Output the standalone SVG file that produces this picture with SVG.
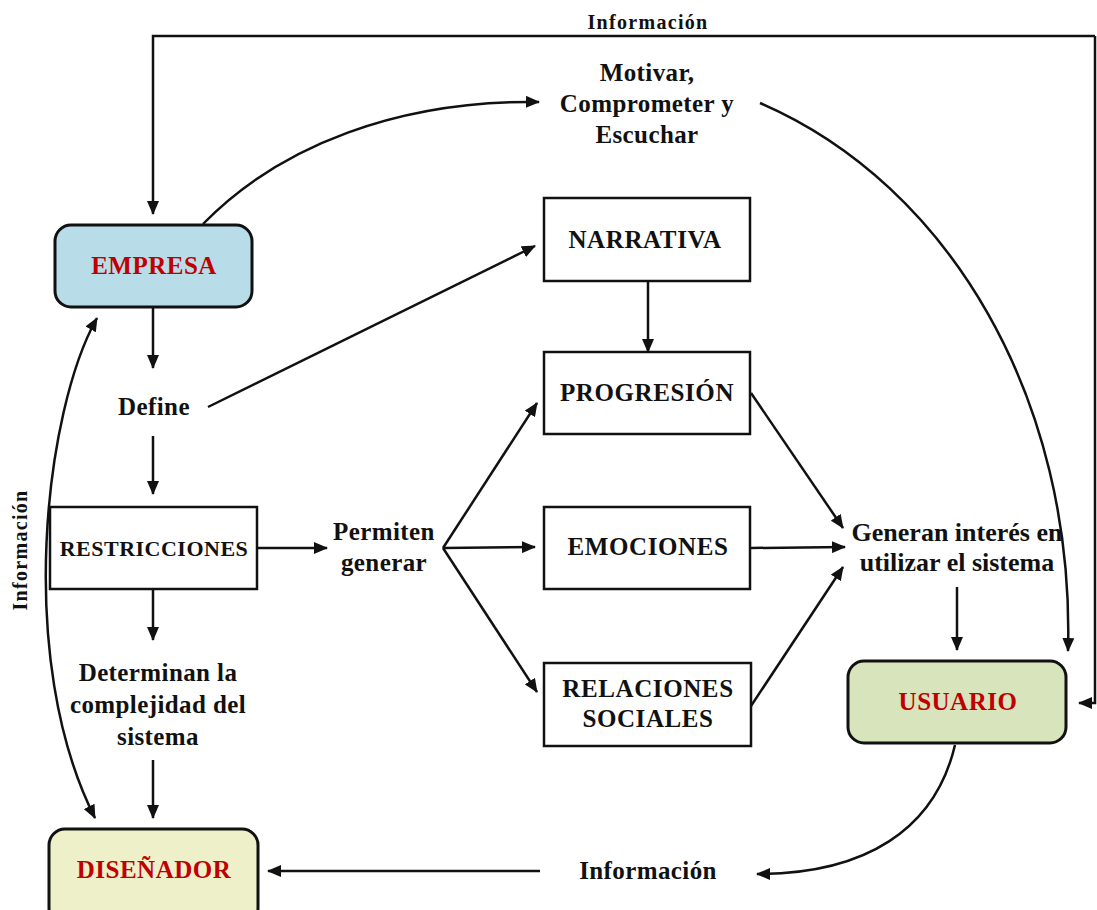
<svg xmlns="http://www.w3.org/2000/svg" width="1097" height="910" viewBox="0 0 1097 910">
  <style>
    .lbl { font-family: "Liberation Serif", "Times New Roman", serif; font-weight: bold; fill: #111; text-anchor: middle; font-size: 25px; letter-spacing: 0.4px; }
    .sm { font-size: 20px; letter-spacing: 1.3px; }
    .bx { font-size: 25px; letter-spacing: 0.6px; }
    .red { font-family: "Liberation Serif", "Times New Roman", serif; font-weight: bold; fill: #c00000; text-anchor: middle; font-size: 25px; letter-spacing: 0.5px; }
    .box { fill: #fff; stroke: #111; stroke-width: 2.5; }
    .rbox { stroke: #111; stroke-width: 3; }
    .ln { fill: none; stroke: #111; stroke-width: 2.5; marker-end: url(#ah); }
  </style>
  <defs>
    <marker id="ah" viewBox="0 0 14 12" refX="13" refY="6" markerWidth="14" markerHeight="12" markerUnits="userSpaceOnUse" orient="auto">
      <path d="M0,0 L14,6 L0,12 Z" fill="#111"/>
    </marker>
    <marker id="ahs" viewBox="0 0 14 12" refX="13" refY="6" markerWidth="14" markerHeight="12" markerUnits="userSpaceOnUse" orient="auto-start-reverse">
      <path d="M0,0 L14,6 L0,12 Z" fill="#111"/>
    </marker>
  </defs>
  <rect width="1097" height="910" fill="#fff"/>

  <g id="connectors">
    <!-- feedback loop along the top and right edge -->
    <path class="ln" d="M1095,36 L153,36 L153,214"/>
    <path class="ln" d="M1095,36 L1095,703 L1079,703"/>
    <!-- empresa to motivar, motivar to usuario -->
    <path class="ln" d="M203,224 C280,145 400,100 539,102"/>
    <path class="ln" d="M760,103 C950,185 1075,400 1068,651"/>
    <!-- vertical chain on the left -->
    <path class="ln" d="M153,308 L153,368"/>
    <path class="ln" d="M153,436 L153,494"/>
    <path class="ln" d="M153,590 L153,640"/>
    <path class="ln" d="M153,760 L153,818"/>
    <!-- define to narrativa -->
    <path class="ln" d="M208,407 L535,246"/>
    <!-- narrativa to progresion -->
    <path class="ln" d="M648,281 L648,352"/>
    <!-- restricciones to permiten -->
    <path class="ln" d="M257,548 L327,548"/>
    <!-- fan out -->
    <path class="ln" d="M443,548 L537,403"/>
    <path class="ln" d="M443,548 L535,547"/>
    <path class="ln" d="M443,548 L537,692"/>
    <!-- fan in -->
    <path class="ln" d="M751,393 L843,528"/>
    <path class="ln" d="M751,548 L845,547"/>
    <path class="ln" d="M751,706 L843,567"/>
    <!-- generan interes to usuario -->
    <path class="ln" d="M957,587 L957,650"/>
    <!-- usuario back to diseñador -->
    <path class="ln" d="M955,745 C935,830 865,874 757,874"/>
    <path class="ln" d="M540,871 L268,871"/>
    <!-- two-way link empresa / diseñador -->
    <path class="ln" style="marker-start: url(#ahs)" d="M97,318 C45,410 15,660 95,818"/>
  </g>

  <g id="labels">
    <text class="lbl sm" x="648" y="29">Información</text>
    <text class="lbl" x="647" y="81">Motivar,</text>
    <text class="lbl" x="647" y="112">Comprometer y</text>
    <text class="lbl" x="647" y="143">Escuchar</text>
    <text class="lbl" x="154" y="415">Define</text>
    <text class="lbl" x="384" y="540">Permiten</text>
    <text class="lbl" x="384" y="571">generar</text>
    <text class="lbl" x="957" y="541" style="font-size:26px;letter-spacing:0">Generan interés en</text>
    <text class="lbl" x="957" y="571" style="font-size:26px;letter-spacing:0">utilizar el sistema</text>
    <text class="lbl" x="158" y="681">Determinan la</text>
    <text class="lbl" x="158" y="713">complejidad del</text>
    <text class="lbl" x="158" y="745">sistema</text>
    <text class="lbl" x="648" y="879">Información</text>
    <text class="lbl sm" transform="translate(27,550) rotate(-90)">Información</text>
  </g>

  <g id="empresa">
    <rect class="rbox" x="55" y="225" width="197" height="82" rx="16" fill="#b8dde8"/>
    <text class="red" x="154" y="274">EMPRESA</text>
  </g>
  <g id="narrativa">
    <rect class="box" x="544" y="198" width="206" height="83"/>
    <text class="lbl bx" x="645" y="248">NARRATIVA</text>
  </g>
  <g id="progresion">
    <rect class="box" x="544" y="352" width="206" height="82"/>
    <text class="lbl bx" x="647" y="401">PROGRESIÓN</text>
  </g>
  <g id="emociones">
    <rect class="box" x="544" y="507" width="206" height="82"/>
    <text class="lbl bx" x="648" y="555">EMOCIONES</text>
  </g>
  <g id="relaciones">
    <rect class="box" x="544" y="663" width="207" height="83"/>
    <text class="lbl bx" x="648" y="697">RELACIONES</text>
    <text class="lbl bx" x="648" y="727">SOCIALES</text>
  </g>
  <g id="restricciones">
    <rect class="box" x="50" y="507" width="207" height="82"/>
    <text class="lbl" x="154" y="556" style="font-size:22px;letter-spacing:0.5px">RESTRICCIONES</text>
  </g>
  <g id="usuario">
    <rect class="rbox" x="848" y="661" width="218" height="82" rx="16" fill="#d8e4bc"/>
    <text class="red" x="958" y="710">USUARIO</text>
  </g>
  <g id="disenador">
    <rect class="rbox" x="49" y="829" width="209" height="95" rx="16" fill="#eef0c9"/>
    <text class="red" x="154" y="878">DISEÑADOR</text>
  </g>
</svg>
